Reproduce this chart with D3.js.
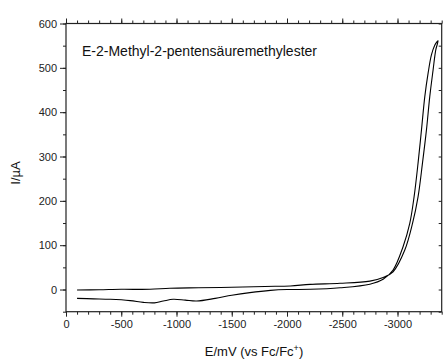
<!DOCTYPE html>
<html>
<head>
<meta charset="utf-8">
<script src="https://cdn.jsdelivr.net/npm/d3@7"></script>
<style>
  body { margin: 0; background: #fff; }
  svg { font-family: "Liberation Sans", Arial, sans-serif; }
  .axis path { display: none; }
  .axis line { stroke: #222; stroke-width: 1; }
  .axis text { font-size: 11px; fill: #222; }
</style>
</head>
<body>
<svg width="445" height="361"></svg>
<script>
// **** data ****

// forward scan: from -100 mV cathodic to the turning point
var forwardE = [-100, -300, -500, -760, -940, -1200, -1500, -1800, -2030, -2210, -2480, -2750,
                -2870, -2960, -3066, -3136, -3186, -3226, -3262, -3292, -3322, -3346, -3367];
var forwardI = [-1, -0.5, 0.5, 0.5, 3, 4, 5, 7, 8, 11.7, 14, 19,
                27, 40, 89, 149, 209, 285, 360, 435, 495, 540, 561];

// reverse scan: back from the turning point to -100 mV
var reverseE = [-3367, -3355, -3337, -3307, -3277, -3247, -3217, -3186, -3150, -3111, -3051, -2960,
                -2870, -2750, -2480, -2210, -2000, -1850, -1664, -1500, -1350, -1182, -1080, -970,
                -880, -800, -700, -580, -400, -250, -100];
var reverseI = [561, 558, 551, 529, 488, 435, 360, 285, 209, 149, 97, 44,
                23, 12, 4, 0.5, 0, -2, -7, -13, -20, -26, -24, -22,
                -26, -30, -29, -25, -22, -21, -20];

var xMajor = d3.range(0, -3401, -500);
var xMinor = d3.range(0, -3401, -100);
var yMajor = d3.range(0, 601, 100);
var yMinor = d3.range(-50, 601, 50);

var title = "E-2-Methyl-2-pentensäuremethylester";

// **** scales ****

var plotLeft = 66, plotRight = 441.7, plotTop = 23.5, plotBottom = 311.7;

var xScale = d3.scaleLinear().domain([0, -3400]).range([plotLeft, plotRight]);
var yScale = d3.scaleLinear().domain([-50, 600]).range([plotBottom, plotTop]);

var svg = d3.select('svg');

// **** axes ****

svg.append('g').attr('class', 'axis')
    .attr('transform', 'translate(0,' + plotBottom + ')')
    .call(d3.axisBottom(xScale).tickValues(xMinor).tickSize(3).tickFormat(''));

svg.append('g').attr('class', 'axis')
    .attr('transform', 'translate(0,' + plotBottom + ')')
    .call(d3.axisBottom(xScale).tickValues(xMajor).tickSize(5).tickPadding(4)
        .tickFormat(function(d) { return String(d); }));

svg.append('g').attr('class', 'axis')
    .attr('transform', 'translate(0,' + plotTop + ')')
    .call(d3.axisTop(xScale).tickValues(xMinor).tickSize(3).tickFormat(''));

svg.append('g').attr('class', 'axis')
    .attr('transform', 'translate(0,' + plotTop + ')')
    .call(d3.axisTop(xScale).tickValues(xMajor).tickSize(5).tickFormat(''));

svg.append('g').attr('class', 'axis')
    .attr('transform', 'translate(' + plotLeft + ',0)')
    .call(d3.axisLeft(yScale).tickValues(yMinor).tickSize(3).tickFormat(''));

svg.append('g').attr('class', 'axis')
    .attr('transform', 'translate(' + plotLeft + ',0)')
    .call(d3.axisLeft(yScale).tickValues(yMajor).tickSize(6).tickPadding(3));

svg.append('g').attr('class', 'axis')
    .attr('transform', 'translate(' + plotRight + ',0)')
    .call(d3.axisRight(yScale).tickValues(yMinor).tickSize(-3).tickFormat(''));

// frame
svg.append('rect')
    .attr('x', plotLeft).attr('y', plotTop)
    .attr('width', plotRight - plotLeft).attr('height', plotBottom - plotTop)
    .attr('fill', 'none').attr('stroke', '#222').attr('stroke-width', 1.2);

// **** the voltammogram ****

var scan = forwardE.map(function(e, i) { return [e, forwardI[i]]; })
    .concat(reverseE.slice(1).map(function(e, i) { return [e, reverseI[i + 1]]; }));

var line = d3.line()
    .x(function(d) { return xScale(d[0]); })
    .y(function(d) { return yScale(d[1]); })
    .curve(d3.curveCatmullRom.alpha(0.5));

svg.append('path')
    .datum(scan)
    .attr('d', line)
    .attr('fill', 'none')
    .attr('stroke', '#000')
    .attr('stroke-width', 1.1);

// **** labels ****

svg.append('text')
    .attr('x', 82).attr('y', 55.5)
    .attr('font-size', '14px').attr('fill', '#111')
    .text(title);

var xl = svg.append('text')
    .attr('text-anchor', 'middle')
    .attr('x', 254).attr('y', 356)
    .attr('font-size', '13px').attr('fill', '#111');
xl.append('tspan').text('E/mV (vs Fc/Fc');
xl.append('tspan').attr('font-size', '9px').attr('dy', '-5').text('+');
xl.append('tspan').attr('dy', '5').text(')');

svg.append('text')
    .attr('text-anchor', 'middle')
    .attr('transform', 'translate(20,173) rotate(-90)')
    .attr('font-size', '13px').attr('fill', '#111')
    .text('I/µA');
</script>
</body>
</html>
